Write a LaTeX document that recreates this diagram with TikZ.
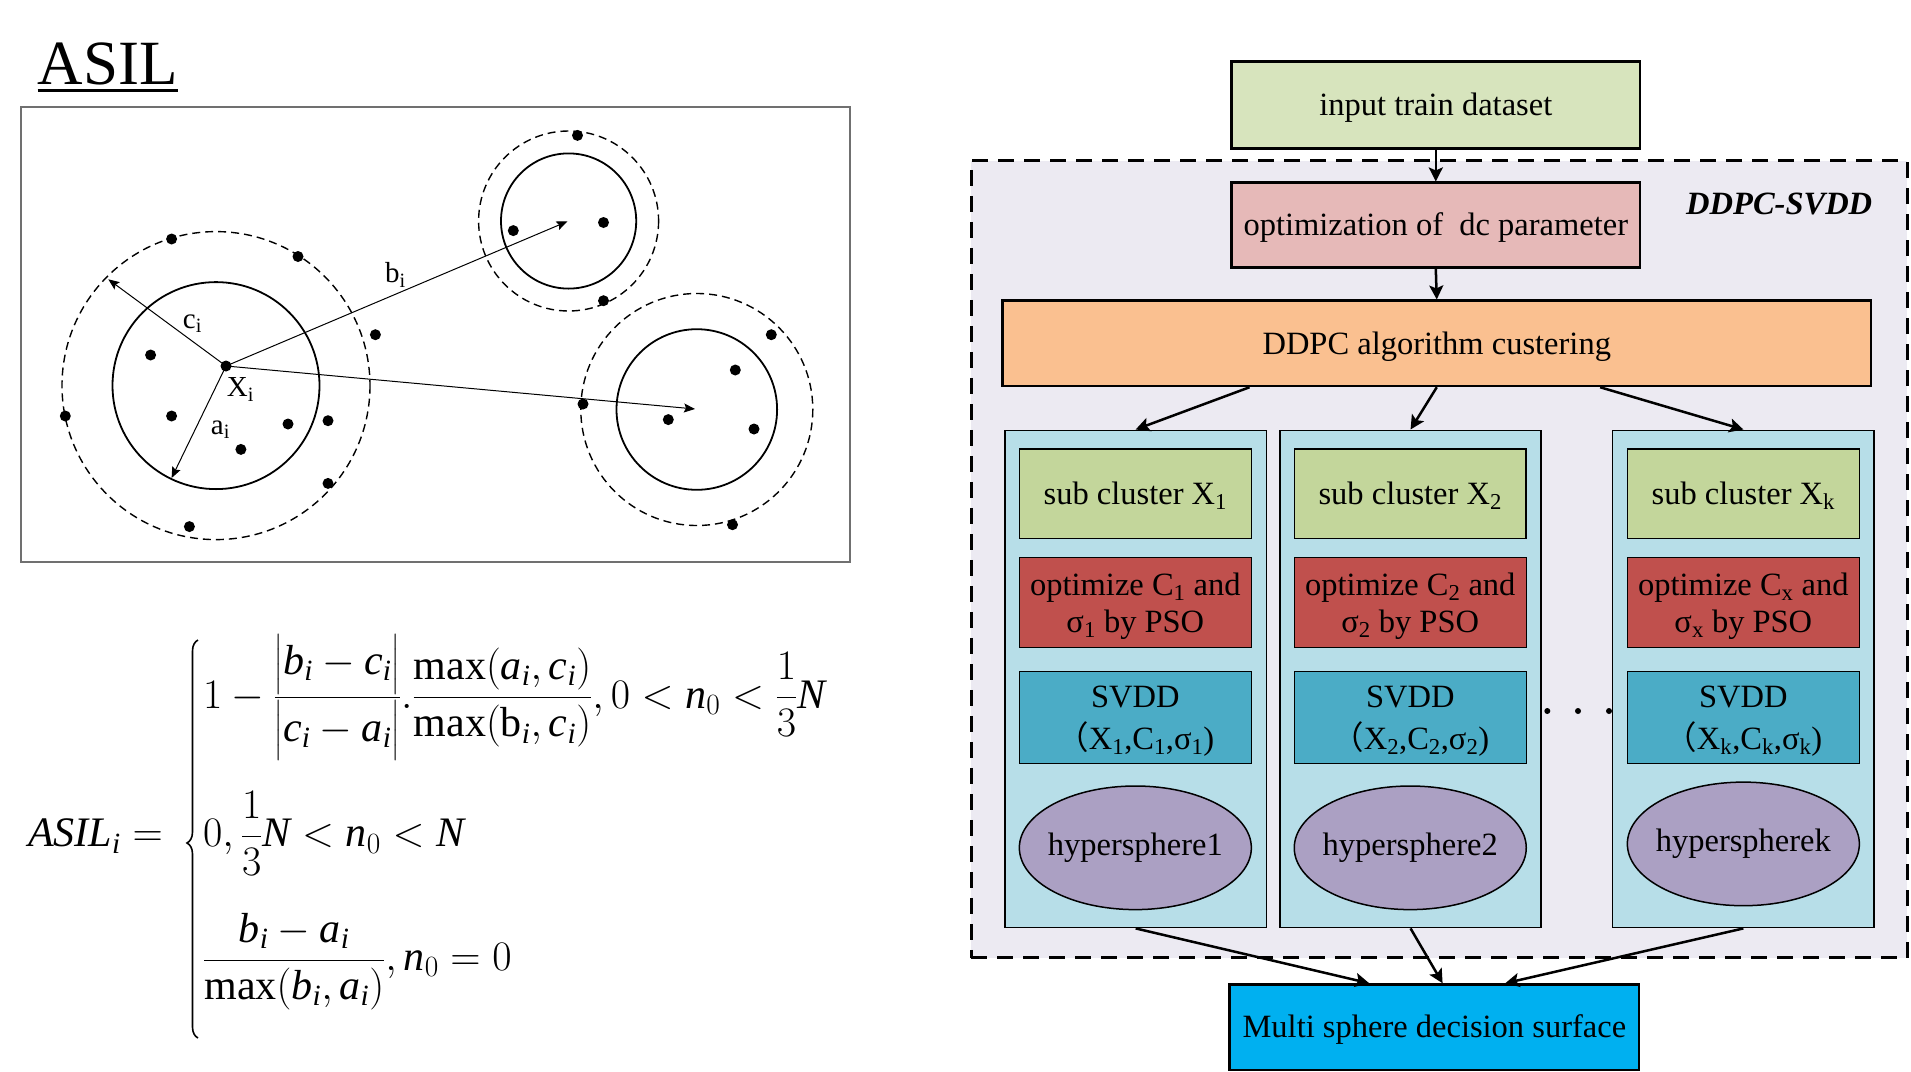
\RequirePackage{fix-cm}
\documentclass[tikz,border=0pt]{standalone}
\usepackage{amsmath}
\usepackage{fontspec}
\setmainfont{Liberation Serif}
\newfontfamily\cjk{Noto Sans CJK SC}
\usetikzlibrary{arrows.meta,calc,shapes.geometric,decorations.pathreplacing}
\definecolor{cInput}{HTML}{D7E4BD}
\definecolor{cOpt}{HTML}{E6B9B8}
\definecolor{cDdpc}{HTML}{FAC090}
\definecolor{cRegion}{HTML}{ECEAF2}
\definecolor{cCol}{HTML}{B7DEE8}
\definecolor{cSub}{HTML}{C3D69B}
\definecolor{cPso}{HTML}{C0504D}
\definecolor{cSvdd}{HTML}{4BACC6}
\definecolor{cHs}{HTML}{ABA0C3}
\definecolor{cMulti}{HTML}{00B0F0}
\definecolor{cFrame}{HTML}{707070}
\newcommand\fs{\fontsize{32.5}{37}\selectfont}
\newcommand\mi[1]{\textit{#1}}
\begin{document}
\begin{tikzpicture}[x=1pt,y=-1pt,
  oneline/.style={text height=29pt, text depth=7.5pt},
  bigbox/.style={draw=black, line width=2.5pt, inner sep=0pt, font=\fs, align=center, oneline},
  colbox/.style={draw=black, line width=1.8pt, fill=cCol, inner sep=0pt, minimum width=261.6pt, minimum height=497.1pt},
  subbox/.style={draw=black, line width=1.6pt, fill=cSub, inner sep=0pt, minimum width=231.9pt, minimum height=89.6pt, font=\fs, align=center, oneline},
  psobox/.style={draw=black, line width=1.4pt, fill=cPso, inner sep=0pt, minimum width=231.9pt, minimum height=90pt},
  svddbox/.style={draw=black, line width=1.4pt, fill=cSvdd, inner sep=0pt, minimum width=231.9pt, minimum height=91.9pt},
  boxtext/.style={font=\fs, align=center, inner sep=0pt, yshift=-3.5pt},
  hsell/.style={ellipse, draw=black, line width=1.5pt, fill=cHs, inner sep=0pt, minimum width=232pt, minimum height=123.6pt},
  hstext/.style={font=\fs, inner sep=0pt},
  flowarr/.style={-{Stealth[length=14pt,width=14pt,inset=3pt]}, line width=2.5pt},
  thinarr/.style={-{Stealth[length=11pt,width=9pt,inset=2pt]}, line width=1pt},
  dot/.style={circle, fill=black, inner sep=0pt, minimum size=11pt},
  smalldot/.style={circle, fill=black, inner sep=0pt, minimum size=6pt},
  solidc/.style={line width=1.8pt},
  dashc/.style={line width=1.4pt, dash pattern=on 8pt off 5pt},
  lab/.style={inner sep=0pt, anchor=base west, font=\fontsize{29}{34}\selectfont},
  eq/.style={inner sep=0pt, anchor=base west, font=\fontsize{42}{50}\selectfont},
  bracestyle/.style={line width=1.6pt, decorate, decoration={brace, amplitude=11pt, aspect=0.49}}
]
\useasboundingbox (0,0) rectangle (1911,1071);
\fill[white] (0,0) rectangle (1911,1071);

% ---------------- left: ASIL scheme ----------------
\node[inner sep=0pt, anchor=base west, font=\fontsize{63}{70}\selectfont] (asil) at (37.6,84) {ASIL};
\draw[line width=3pt] ($(asil.base west)+(0,6)$) -- ($(asil.base east)+(0,6)$);

\draw[cFrame, line width=1.3pt] (21,107) rectangle (850,562);

\coordinate (k1) at (216,385.6);
\coordinate (k2) at (568.6,221);
\coordinate (k3) at (696.8,409.5);
\draw[solidc] (k1) circle[radius=103.5];
\draw[dashc] (k1) circle[radius=154];
\draw[solidc] (k2) circle[radius=67.6];
\draw[dashc] (k2) circle[radius=90];
\draw[solidc] (k3) circle[radius=80.3];
\draw[dashc] (k3) circle[radius=116];

\foreach \x/\y [count=\k] in {171.6/239, 298/256.5, 375.4/334.7, 150.6/355, 65.3/416, 171.6/416, 288/424, 328/420.7, 240.9/449.4, 328/483.4, 189.4/526.6, 577.5/135.4, 513.3/230.6, 603.5/222.5, 603.5/300.7, 771.3/334.7, 735.3/370, 583/404, 668.3/419.6, 754/429, 732.5/524.7}
  {\node[dot] (d\k) at (\x,\y) {};}

\node[dot] (xi) at (226,366) {};
\coordinate (ctip) at (108.3,279.3);
\coordinate (atip) at (171.6,478);
\coordinate (btip) at (567.5,221.4);
\coordinate (ltip) at (695,409);
\draw[thinarr] (xi.center) -- (ctip);
\draw[thinarr] (xi.center) -- (atip);
\draw[thinarr] (xi.center) -- (btip);
\draw[thinarr] (xi.center) -- (ltip);

\node[lab] (lx) at (226.7,396.7) {X\textsubscript{i}};
\node[lab] (lc) at (182.7,328.3) {c\textsubscript{i}};
\node[lab] (la) at (210.7,434) {a\textsubscript{i}};
\node[lab] (lb) at (385,282.7) {b\textsubscript{i}};

% ---------------- left: formula ----------------
\node[eq] (eqlhs) at (28,846.7) {$\mi{ASIL}_{\mi{i}}=$};
\coordinate (brbot) at (198,1038);
\coordinate (brtop) at (198,640);
\draw[bracestyle] (brbot) -- (brtop);
\node[eq] (row1) at (203,708)
  {$\displaystyle 1-\frac{\bigl|\mi{b}_{\mi{i}}-\mi{c}_{\mi{i}}\bigr|}{\bigl|\mi{c}_{\mi{i}}-\mi{a}_{\mi{i}}\bigr|}.\frac{\max(\mi{a}_{\mi{i}},\mi{c}_{\mi{i}})}{\max(\mathrm{b}_{\mi{i}},\mi{c}_{\mi{i}})},0<\mi{n}_0<\frac{1}{3}\mi{N}$};
\node[eq] (row2) at (203,846.7)
  {$\displaystyle 0,\frac{1}{3}\mi{N}<\mi{n}_0<\mi{N}$};
\node[eq] (row3) at (203,970.5)
  {$\displaystyle \frac{\mi{b}_{\mi{i}}-\mi{a}_{\mi{i}}}{\max(\mi{b}_{\mi{i}},\mi{a}_{\mi{i}})},\mi{n}_0=0$};

% ---------------- right: flowchart ----------------
\node[draw=black, line width=3pt, dash pattern=on 16pt off 10pt, fill=cRegion, inner sep=0pt,
      minimum width=936pt, minimum height=796.8pt] (region) at (1439,559.1) {};
\node[inner sep=0pt, anchor=base west, font=\fs\bfseries\itshape] (rlabel) at (1686,214.3) {DDPC-SVDD};

\node[bigbox, fill=cInput, minimum width=408.4pt, minimum height=86.6pt] (input) at (1435.8,105) {input train dataset};
\node[bigbox, fill=cOpt, minimum width=408.4pt, minimum height=85pt] (opt) at (1435.8,225.2) {optimization of~\ dc parameter};
\node[bigbox, fill=cDdpc, minimum width=868.5pt, minimum height=85.3pt] (ddpc) at (1436.75,343.35) {DDPC algorithm custering};

\node[colbox] (col1) at (1135.65,678.95) {};
\node[colbox] (col2) at (1410.55,678.95) {};
\node[colbox] (col3) at (1743.35,678.95) {};

\node[subbox] (sub1) at (1135.35,493.8) {sub cluster X\textsubscript{1}};
\node[subbox] (sub2) at (1410.25,493.8) {sub cluster X\textsubscript{2}};
\node[subbox] (sub3) at (1743.35,493.8) {sub cluster X\textsubscript{k}};

\node[psobox] (pso1) at (1135.35,602.4) {};
\node[psobox] (pso2) at (1410.25,602.4) {};
\node[psobox] (pso3) at (1743.35,602.4) {};
\node[boxtext] (pso1t) at (pso1.center) {optimize C\textsubscript{1} and\\σ\textsubscript{1} by PSO};
\node[boxtext] (pso2t) at (pso2.center) {optimize C\textsubscript{2} and\\σ\textsubscript{2} by PSO};
\node[boxtext] (pso3t) at (pso3.center) {optimize C\textsubscript{x} and\\σ\textsubscript{x} by PSO};

\node[svddbox] (svdd1) at (1135.35,717.65) {};
\node[svddbox] (svdd2) at (1410.25,717.65) {};
\node[svddbox] (svdd3) at (1743.35,717.65) {};
\node[boxtext] (svdd1t) at (svdd1.center) {SVDD\\[5pt]{\cjk （}X\textsubscript{1},C\textsubscript{1},σ\textsubscript{1})};
\node[boxtext] (svdd2t) at (svdd2.center) {SVDD\\[5pt]{\cjk （}X\textsubscript{2},C\textsubscript{2},σ\textsubscript{2})};
\node[boxtext] (svdd3t) at (svdd3.center) {SVDD\\[5pt]{\cjk （}X\textsubscript{k},C\textsubscript{k},σ\textsubscript{k})};

\node[hsell] (hs1) at (1135.35,847.8) {};
\node[hsell] (hs2) at (1410.25,847.8) {};
\node[hsell] (hs3) at (1743.35,843.9) {};
\node[hstext] (hs1t) at (hs1.center) {hypersphere1};
\node[hstext] (hs2t) at (hs2.center) {hypersphere2};
\node[hstext] (hs3t) at (hs3.center) {hyperspherek};

\node[smalldot] (e1) at (1547.3,711) {};
\node[smalldot] (e2) at (1578,711) {};
\node[smalldot] (e3) at (1609,711) {};

\node[bigbox, fill=cMulti, minimum width=409.7pt, minimum height=85.3pt] (multi) at (1434.35,1027.15) {Multi sphere decision surface};

\draw[flowarr] (input.south) -- (opt.north);
\draw[flowarr] (opt.south) -- (ddpc.north);
\draw[flowarr] ($(ddpc.south west)!0.285!(ddpc.south east)$) -- (col1.north);
\draw[flowarr] (ddpc.south) -- (col2.north);
\draw[flowarr] ($(ddpc.south west)!0.6876!(ddpc.south east)$) -- (col3.north);
\draw[flowarr] (col1.south) -- ($(multi.north west)!0.342!(multi.north east)$);
\draw[flowarr] (col2.south) -- ($(multi.north west)!0.52!(multi.north east)$);
\draw[flowarr] (col3.south) -- ($(multi.north west)!0.672!(multi.north east)$);
\end{tikzpicture}
\end{document}
